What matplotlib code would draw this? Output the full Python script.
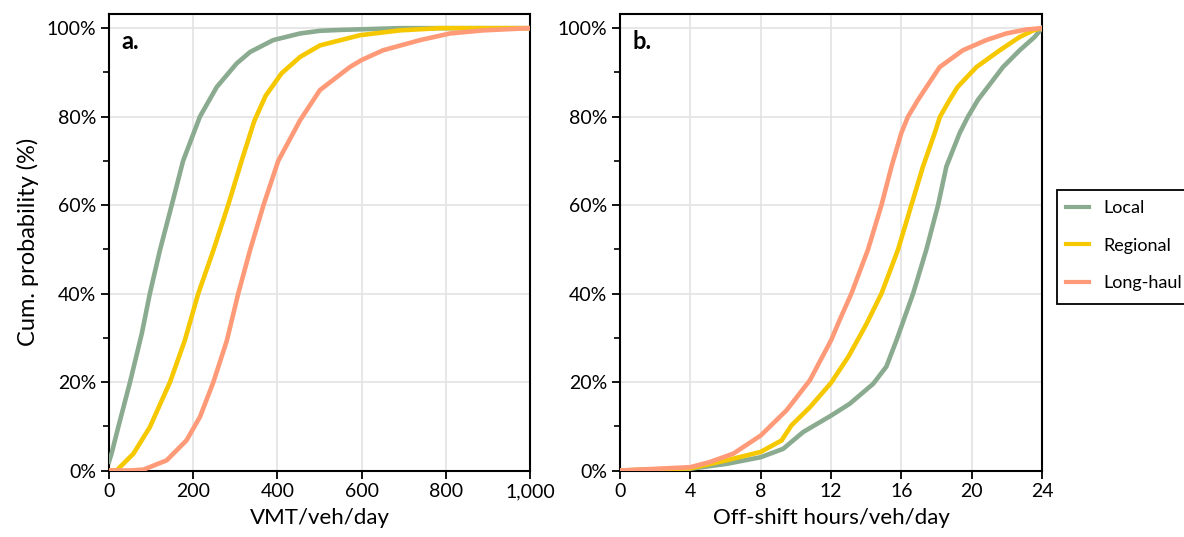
import numpy as np
import matplotlib
matplotlib.use("Agg")
import matplotlib.pyplot as plt
from matplotlib.ticker import FuncFormatter, MultipleLocator
from matplotlib.lines import Line2D

plt.rcParams['font.family'] = ['Lato', 'DejaVu Sans']

series_names = ["Local", "Regional", "Long-haul"]
colors = ["#8aab8f", "#f5c800", "#ff9a78"]

# Panel a: VMT/veh/day
vmt_local_x = [0, 6, 22, 50, 78, 97, 121, 149, 176, 216, 256, 303, 335, 390, 454, 501, 549, 691, 1000]
vmt_local_y = [0.02, 0.038, 0.098, 0.20, 0.31, 0.40, 0.498, 0.60, 0.70, 0.80, 0.867, 0.92, 0.946, 0.973, 0.988, 0.994, 0.996, 1.0, 1.0]
vmt_regional_x = [0, 18, 58, 97, 145, 180, 212, 248, 283, 315, 345, 372, 410, 454, 501, 596, 691, 786, 1000]
vmt_regional_y = [0.0, 0.0, 0.038, 0.098, 0.20, 0.294, 0.40, 0.498, 0.60, 0.70, 0.79, 0.847, 0.898, 0.935, 0.961, 0.984, 0.995, 1.0, 1.0]
vmt_longhaul_x = [0, 50, 82, 137, 184, 216, 248, 280, 307, 335, 367, 402, 454, 501, 572, 600, 651, 739, 810, 889, 1000]
vmt_longhaul_y = [0.0, 0.0, 0.002, 0.023, 0.068, 0.121, 0.20, 0.294, 0.40, 0.498, 0.60, 0.70, 0.792, 0.86, 0.912, 0.928, 0.95, 0.973, 0.988, 0.995, 1.0]

# Panel b: Off-shift hours/veh/day
hrs_local_x = [0, 4, 6.06, 8, 9.28, 10.42, 12, 13.07, 14.4, 15.15, 15.72, 16.67, 17.42, 18.09, 18.56, 19.32, 19.79, 20.36, 21.78, 22.73, 23.58, 24]
hrs_local_y = [0.0, 0.004, 0.015, 0.030, 0.049, 0.087, 0.124, 0.151, 0.196, 0.235, 0.294, 0.40, 0.499, 0.60, 0.687, 0.763, 0.80, 0.838, 0.912, 0.95, 0.98, 1.0]
hrs_regional_x = [0, 4, 6.06, 8, 9.19, 9.75, 10.8, 12, 13.0, 14.0, 14.87, 15.81, 16.57, 17.23, 17.9, 18.2, 18.75, 19.2, 20.27, 21.6, 22.73, 23.5, 24]
hrs_regional_y = [0.0, 0.005, 0.023, 0.042, 0.068, 0.102, 0.143, 0.198, 0.258, 0.330, 0.40, 0.499, 0.60, 0.687, 0.763, 0.80, 0.838, 0.867, 0.912, 0.95, 0.98, 0.995, 1.0]
hrs_longhaul_x = [0, 4, 5.1, 6.44, 8, 9.47, 10.8, 12, 12.5, 13.16, 14.1, 14.87, 15.44, 16.0, 16.38, 16.95, 18.18, 19.5, 20.83, 21.97, 23.1, 24]
hrs_longhaul_y = [0.0, 0.0075, 0.019, 0.038, 0.079, 0.136, 0.204, 0.294, 0.341, 0.40, 0.499, 0.60, 0.687, 0.763, 0.80, 0.838, 0.912, 0.95, 0.973, 0.988, 0.997, 1.0]

vmt_ticks = [0, 200, 400, 600, 800, 1000]
vmt_ticklabels = ["0", "200", "400", "600", "800", "1,000"]
hrs_ticks = [0, 4, 8, 12, 16, 20, 24]

W, H = 1184, 537
fig = plt.figure(figsize=(W/100, H/100), dpi=100)
ax1 = fig.add_axes([109/W, (H-470.5)/H, 421/W, 456.5/H])
ax2 = fig.add_axes([620/W, (H-470.5)/H, 422/W, 456.5/H])

def style(ax):
    ax.set_ylim(0, 1.032)
    ax.set_yticks([0, 0.2, 0.4, 0.6, 0.8, 1.0])
    ax.yaxis.set_minor_locator(MultipleLocator(0.1))
    ax.yaxis.set_major_formatter(FuncFormatter(lambda v, p: f"{int(round(v*100))}%"))
    ax.grid(True, which='major', color='#e3e3e3', lw=1.2, zorder=0)
    for s in ax.spines.values():
        s.set_color('black')
        s.set_linewidth(1.5)
    ax.tick_params(axis='both', which='major', direction='out', length=6, width=1.3,
                   labelsize=14, color='black', pad=3)
    ax.tick_params(axis='y', which='minor', direction='out', length=4, width=1.2)

lw = 3.3
for x, y, c, n in [(vmt_local_x, vmt_local_y, colors[0], series_names[0]),
                   (vmt_regional_x, vmt_regional_y, colors[1], series_names[1]),
                   (vmt_longhaul_x, vmt_longhaul_y, colors[2], series_names[2])]:
    ax1.plot(x, y, color=c, lw=lw, label=n, zorder=3, solid_joinstyle='round')
style(ax1)
ax1.set_xlim(0, 1000)
ax1.set_xticks(vmt_ticks)
ax1.set_xticklabels(vmt_ticklabels)
ax1.set_xlabel("VMT/veh/day", fontsize=16, labelpad=6)
ax1.set_ylabel("Cum. probability (%)", fontsize=17, labelpad=6)
ax1.text(0.03, 0.965, "a.", transform=ax1.transAxes, fontsize=17, fontweight='bold', va='top', ha='left')

for x, y, c, n in [(hrs_local_x, hrs_local_y, colors[0], series_names[0]),
                   (hrs_regional_x, hrs_regional_y, colors[1], series_names[1]),
                   (hrs_longhaul_x, hrs_longhaul_y, colors[2], series_names[2])]:
    ax2.plot(x, y, color=c, lw=lw, label=n, zorder=3, solid_joinstyle='round')
style(ax2)
ax2.set_xlim(0, 24)
ax2.set_xticks(hrs_ticks)
ax2.set_xlabel("Off-shift hours/veh/day", fontsize=16, labelpad=6)
ax2.text(0.03, 0.965, "b.", transform=ax2.transAxes, fontsize=17, fontweight='bold', va='top', ha='left')

# legend frame: open outline (top, left, bottom) running past the right edge of the figure
bx0, bx1, by0, by1 = 1057, 1300, 190, 303.5
fig.add_artist(Line2D([bx1/W, bx0/W, bx0/W, bx1/W], [(H-by0)/H, (H-by0)/H, (H-by1)/H, (H-by1)/H],
                      transform=fig.transFigure, color='black', lw=1.3, solid_joinstyle='miter'))
handles, labels = ax2.get_legend_handles_labels()
leg = fig.legend(handles, labels, loc='upper left', bbox_to_anchor=(1066/W, (H-200)/H),
                 frameon=False, fontsize=13, handlelength=1.3, handletextpad=0.75,
                 labelspacing=1.2, borderpad=0, borderaxespad=0)
for h in leg.legend_handles:
    h.set_linewidth(3.0)

fig.savefig("out.png", dpi=100)
